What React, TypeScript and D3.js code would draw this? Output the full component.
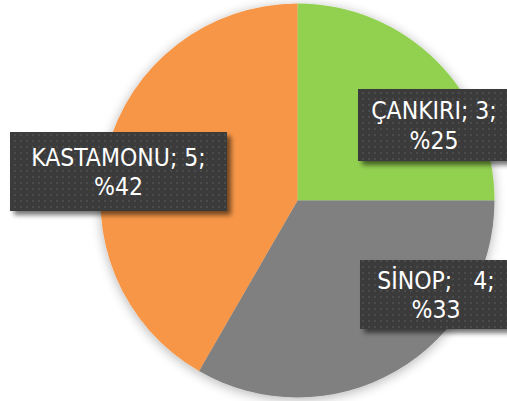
import { useEffect, useRef } from 'react';
import * as d3 from 'd3';

// chart data
const cities = ['ÇANKIRI', 'SİNOP', 'KASTAMONU'];
const counts = [3, 4, 5];
const percents = ['%25', '%33', '%42'];
const firstLines = ['ÇANKIRI; 3;', 'SİNOP;   4;', 'KASTAMONU; 5;'];
const colors = ['#92d050', '#808080', '#f79646'];

// label box layout (x, y, w, h)
const labelBoxes = [
  [358, 89, 152, 72],
  [360, 260, 152, 69],
  [10, 132, 217, 79],
];

const W = 507;
const H = 401;

const App = () => {
  const svgRef = useRef<SVGSVGElement>(null);

  useEffect(() => {
    if (!svgRef.current) return;
    const svg = d3.select(svgRef.current);
    svg.selectAll('*').remove();

    const defs = svg.append('defs');

    // soft glow behind the pie
    const glow = defs.append('filter').attr('id', 'pieGlow')
      .attr('x', '-20%').attr('y', '-20%').attr('width', '140%').attr('height', '140%');
    glow.append('feGaussianBlur').attr('in', 'SourceAlpha').attr('stdDeviation', 6).attr('result', 'b');
    glow.append('feOffset').attr('in', 'b').attr('dx', 0).attr('dy', 2).attr('result', 'o');
    glow.append('feComponentTransfer').attr('in', 'o').attr('result', 's')
      .append('feFuncA').attr('type', 'linear').attr('slope', 0.3);
    const gm = glow.append('feMerge');
    gm.append('feMergeNode').attr('in', 's');
    gm.append('feMergeNode').attr('in', 'SourceGraphic');

    // drop shadow for the label boxes
    const sh = defs.append('filter').attr('id', 'boxShadow')
      .attr('x', '-10%').attr('y', '-10%').attr('width', '130%').attr('height', '140%');
    sh.append('feGaussianBlur').attr('in', 'SourceAlpha').attr('stdDeviation', 2.5).attr('result', 'b');
    sh.append('feOffset').attr('in', 'b').attr('dx', 4).attr('dy', 4).attr('result', 'o');
    sh.append('feComponentTransfer').attr('in', 'o').attr('result', 's')
      .append('feFuncA').attr('type', 'linear').attr('slope', 0.55);
    const sm = sh.append('feMerge');
    sm.append('feMergeNode').attr('in', 's');
    sm.append('feMergeNode').attr('in', 'SourceGraphic');

    // dotted texture for the boxes
    const pat = defs.append('pattern').attr('id', 'dots')
      .attr('width', 6).attr('height', 6).attr('patternUnits', 'userSpaceOnUse');
    pat.append('rect').attr('width', 6).attr('height', 6).attr('fill', '#3b3b3b');
    pat.append('rect').attr('x', 2).attr('y', 2).attr('width', 2).attr('height', 2).attr('fill', '#4b4b4b');

    const cx = 297.5;
    const cy = 200.5;
    const radius = 197;

    const pie = d3.pie<number>().sort(null).value(d => d);
    const arcs = pie(counts);
    const arc = d3.arc<d3.PieArcDatum<number>>().innerRadius(0).outerRadius(radius);

    const g = svg.append('g')
      .attr('transform', `translate(${cx},${cy})`)
      .attr('filter', 'url(#pieGlow)');

    g.selectAll('path')
      .data(arcs)
      .enter()
      .append('path')
      .attr('d', arc)
      .attr('fill', (_, i) => colors[i]);

    // data labels
    arcs.forEach((a, i) => {
      const [x, y, w, h] = labelBoxes[i];
      const lg = svg.append('g').attr('class', 'label').attr('data-city', cities[i]);
      lg.append('rect')
        .attr('x', x).attr('y', y).attr('width', w).attr('height', h)
        .attr('fill', 'url(#dots)')
        .attr('filter', 'url(#boxShadow)');
      const mx = x + w / 2;
      const my = y + h / 2;
      const t = lg.append('text')
        .attr('text-anchor', 'middle')
        .attr('fill', '#ffffff')
        .attr('font-family', "'DejaVu Sans Condensed', 'DejaVu Sans', sans-serif")
        .attr('font-stretch', 'condensed')
        .attr('font-size', 24.5);
      t.append('tspan').attr('x', mx).attr('y', my - 6).style('white-space', 'pre').text(firstLines[i]);
      t.append('tspan').attr('x', mx).attr('y', my + 23.5).text(percents[i]);
    });
  }, []);

  return (
    <div style={{ position: 'fixed', left: 0, top: 0, width: W, height: H, background: '#fff' }}>
      <svg ref={svgRef} width={W} height={H} style={{ display: 'block' }}></svg>
    </div>
  );
};

export default App;
